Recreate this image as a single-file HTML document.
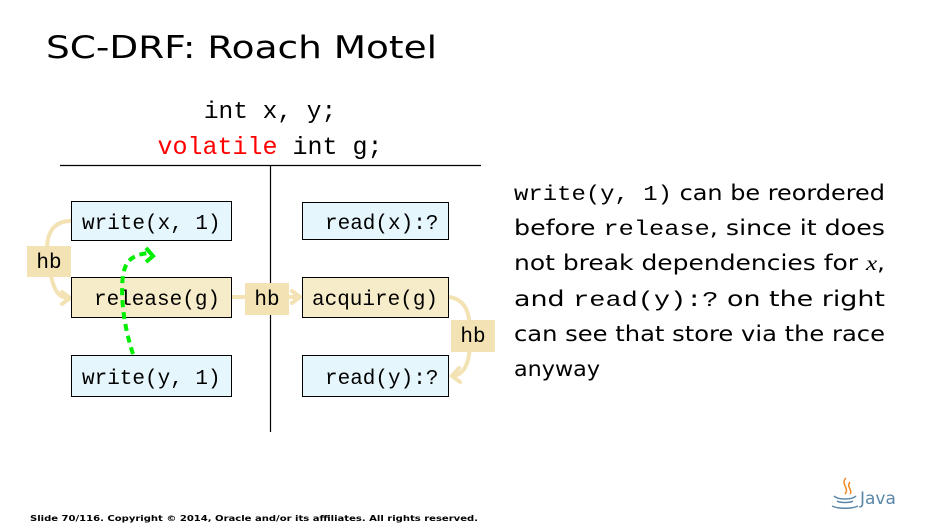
<!DOCTYPE html>
<html><head><meta charset="utf-8"><style>
html,body{margin:0;padding:0;background:#fff;}
svg{display:block}
.m{font-family:"Liberation Mono",monospace;}
.s{font-family:"DejaVu Sans","Liberation Sans",sans-serif;}
</style></head><body>
<svg width="945" height="532" viewBox="0 0 945 532" xmlns="http://www.w3.org/2000/svg">
<text x="46" y="58" class="s" font-size="31" fill="#000" textLength="391" lengthAdjust="spacingAndGlyphs">SC-DRF: Roach Motel</text>
<text x="270" y="118" class="m" font-size="24.5" text-anchor="middle">int x, y;</text>
<text x="270" y="154" class="m" font-size="25" text-anchor="middle"><tspan fill="#ff0000">volatile</tspan> int g;</text>
<line x1="60" y1="165.5" x2="481" y2="165.5" stroke="#000" stroke-width="1.2"/>
<line x1="270.5" y1="165" x2="270.5" y2="432" stroke="#000" stroke-width="1.2"/>

<g fill="none" stroke="#f3e2b3" stroke-width="4" stroke-linecap="round">
<path d="M71 221 C45 221 45 248 49 262 C52 290 58 298 69 298"/>
<path d="M62 292 L70 298 L62 304"/>
<path d="M232 297 L300 297"/>
<path d="M292 291 L300 297 L292 303"/>
<path d="M449 297 C470 300 470 320 470 340 C470 360 466 374 453 376"/>
<path d="M459 368 L452 376 L460 382"/>
</g>
<rect x="27" y="246" width="44" height="31" fill="#f3e2b3"/>
<text x="49" y="268" class="m" font-size="21" text-anchor="middle">hb</text>
<rect x="245" y="283" width="44" height="32" fill="#f3e2b3"/>
<text x="267" y="305" class="m" font-size="21" text-anchor="middle">hb</text>
<rect x="451" y="320" width="44" height="32" fill="#f3e2b3"/>
<text x="473" y="342" class="m" font-size="21" text-anchor="middle">hb</text>

<g stroke="#000" stroke-width="1">
<rect x="71.5" y="201.5" width="160" height="39" fill="#e5f6fc"/>
<rect x="71.5" y="277.5" width="160" height="40" fill="#f7ecc9"/>
<rect x="71.5" y="355.5" width="160" height="41" fill="#e5f6fc"/>
<rect x="302.5" y="202.5" width="146" height="37" fill="#e5f6fc"/>
<rect x="302.5" y="277.5" width="146" height="40" fill="#f7ecc9"/>
<rect x="302.5" y="355.5" width="146" height="41" fill="#e5f6fc"/>
</g>
<g class="m" font-size="21">
<text x="82" y="229">write(x, 1)</text>
<text x="94" y="305">release(g)</text>
<text x="82" y="384">write(y, 1)</text>
<text x="325" y="229">read(x):?</text>
<text x="312" y="305">acquire(g)</text>
<text x="325" y="384">read(y):?</text>
</g>

<path d="M133 354 C125 330 120 300 123 275 C126 258 135 255 148 253" fill="none" stroke="#00ee00" stroke-width="4" stroke-dasharray="7,5"/>
<path d="M146 248 L153 256 L146 262" fill="none" stroke="#00ee00" stroke-width="4"/>

<g font-size="21" fill="#000">
<text x="514" y="200" textLength="371" lengthAdjust="spacingAndGlyphs"><tspan class="m">write(y, 1)</tspan><tspan class="s"> can be reordered</tspan></text>
<text x="514" y="235" textLength="371" lengthAdjust="spacingAndGlyphs"><tspan class="s">before </tspan><tspan class="m">release</tspan><tspan class="s">, since it does</tspan></text>
<text x="514" y="270" textLength="371" lengthAdjust="spacingAndGlyphs" class="s">not break dependencies for <tspan font-family="Liberation Serif,serif" font-style="italic">x</tspan>,</text>
<text x="514" y="306" textLength="371" lengthAdjust="spacingAndGlyphs"><tspan class="s">and </tspan><tspan class="m">read(y):?</tspan><tspan class="s"> on the right</tspan></text>
<text x="514" y="341" textLength="371" lengthAdjust="spacingAndGlyphs" class="s">can see that store via the race</text>
<text x="514" y="376" class="s" textLength="86" lengthAdjust="spacingAndGlyphs">anyway</text>
</g>

<text x="30" y="521" class="s" font-size="8" font-weight="bold" textLength="448" lengthAdjust="spacingAndGlyphs">Slide 70/116. Copyright © 2014, Oracle and/or its affiliates. All rights reserved.</text>

<g fill="none" stroke="#f08a24" stroke-width="1.5">
<path d="M846 478 C840 484 850 488 845 494"/>
<path d="M850 482 C846 487 853 490 850 494"/>
</g>
<g fill="none" stroke="#5a86a8" stroke-width="1.5">
<path d="M834 496 C838 500 852 500 856 496"/>
<path d="M837 501 C840 503 850 503 853 501"/>
<path d="M832 506 C838 509 852 509 858 506"/>
</g>
<text x="860" y="504" class="s" font-size="17" fill="#5a86a8">Java</text>
</svg>
</body></html>
